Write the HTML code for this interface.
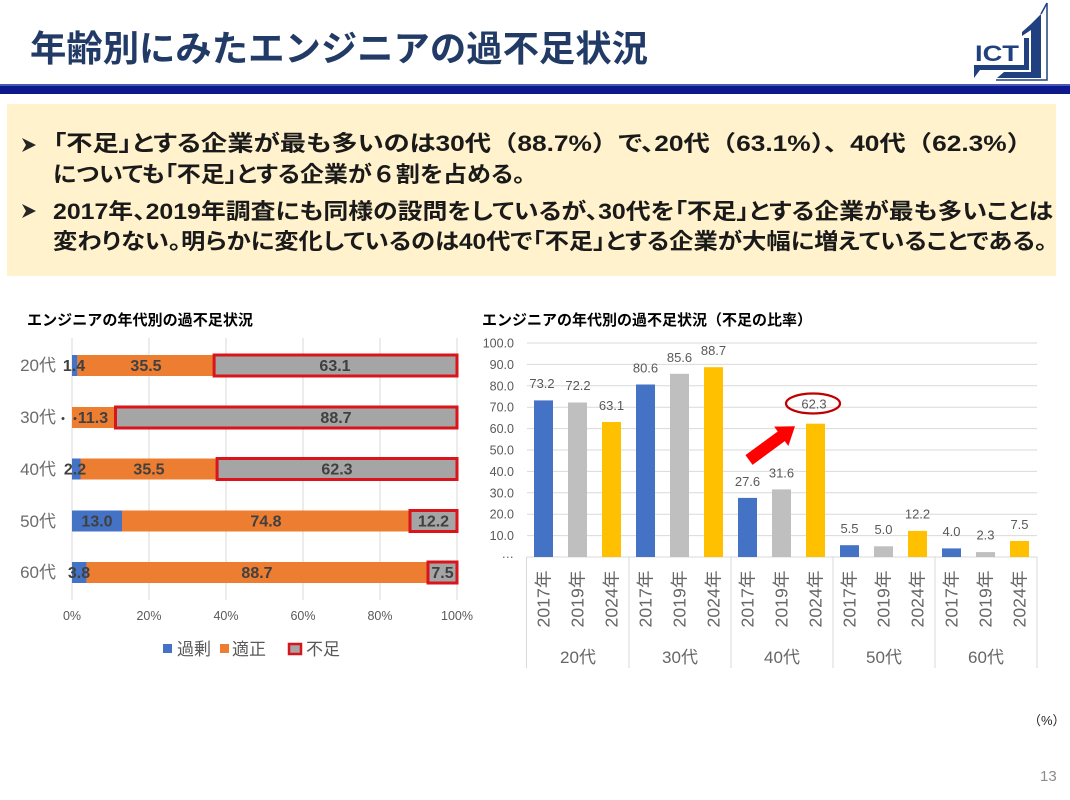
<!DOCTYPE html>
<html><head><meta charset="utf-8">
<style>
html,body{margin:0;padding:0;background:#fff;}
body{width:1070px;height:800px;overflow:hidden;}
svg{display:block;}
text{font-family:"Liberation Sans","Noto Sans CJK JP",sans-serif;}
.jp{font-feature-settings:"palt";}
.fw{font-feature-settings:normal;}
</style></head>
<body>
<svg width="1070" height="800" viewBox="0 0 1070 800" xmlns="http://www.w3.org/2000/svg">
<!-- Header -->
<text x="30" y="61" font-size="36" font-weight="bold" fill="#213a66" textLength="618" lengthAdjust="spacingAndGlyphs">年齢別にみたエンジニアの過不足状況</text>
<rect x="0" y="84" width="1070" height="2" fill="#4a58b8"/>
<rect x="0" y="86" width="1070" height="8" fill="#0d1a8c"/>
<!-- Logo -->
<g fill="#20407f" stroke="none">
  <text x="975" y="61" font-size="22" font-weight="bold" fill="#20407f" textLength="44" lengthAdjust="spacingAndGlyphs">ICT</text>
  <polygon points="1031,24 1041,14 1041,72 1031,72"/>
  <polygon points="1022,32 1031,24 1031,30 1022,36"/>
  <polygon points="974,65 1024,65 1024,38 1029,38 1029,70 980,70 974,78"/>
  <polygon points="997,78 1004,72 1041,72 1041,78"/>
</g>
<polyline points="1047,3 1047,80 996,80" fill="none" stroke="#20407f" stroke-width="1.5"/>
<line x1="1047" y1="3" x2="1041" y2="14" stroke="#20407f" stroke-width="1.5"/>

<!-- Yellow box -->
<rect x="7" y="104" width="1049" height="172" fill="#fff2cc"/>
<polygon points="22,138 36,145 22,152 26,145" fill="#262626"/>
<polygon points="22,204 36,211 22,218 26,211" fill="#262626"/>
<g font-size="22" font-weight="bold" fill="#1a1a1a" class="jp">
<text x="53" y="151" textLength="980" lengthAdjust="spacingAndGlyphs">「不足」とする企業が最も多いのは30代<tspan class="fw">（</tspan>88.7%<tspan class="fw">）</tspan>で、20代<tspan class="fw">（</tspan>63.1%<tspan class="fw">）、</tspan>40代<tspan class="fw">（</tspan>62.3%<tspan class="fw">）</tspan></text>
<text x="53" y="182" textLength="472" lengthAdjust="spacingAndGlyphs">についても「不足」とする企業が<tspan class="fw">６</tspan>割を占める。</text>
<text x="53" y="219" textLength="1000" lengthAdjust="spacingAndGlyphs">2017年、2019年調査にも同様の設問をしているが、30代を「不足」とする企業が最も多いことは</text>
<text x="53" y="249" textLength="994" lengthAdjust="spacingAndGlyphs">変わりない。明らかに変化しているのは40代で「不足」とする企業が大幅に増えていることである。</text>
</g>

<!-- Left chart -->
<text x="27" y="325" font-size="15" font-weight="bold" fill="#000" textLength="226" lengthAdjust="spacingAndGlyphs">エンジニアの年代別の過不足状況</text>
<g stroke="#d9d9d9" stroke-width="1">
  <line x1="72" y1="338" x2="72" y2="600"/>
  <line x1="149" y1="338" x2="149" y2="600"/>
  <line x1="226" y1="338" x2="226" y2="600"/>
  <line x1="303" y1="338" x2="303" y2="600"/>
  <line x1="380" y1="338" x2="380" y2="600"/>
  <line x1="457" y1="338" x2="457" y2="600"/>
</g>
<g>
  <rect x="72" y="355" width="5.4" height="21" fill="#4472c4"/>
  <rect x="77.4" y="355" width="136.7" height="21" fill="#ed7d31"/>
  <rect x="214.1" y="355" width="242.9" height="21" fill="#a5a5a5" stroke="#d9141b" stroke-width="3"/>
  <rect x="72" y="407" width="43.5" height="21" fill="#ed7d31"/>
  <rect x="115.5" y="407" width="341.5" height="21" fill="#a5a5a5" stroke="#d9141b" stroke-width="3"/>
  <rect x="72" y="458.5" width="8.5" height="21" fill="#4472c4"/>
  <rect x="80.5" y="458.5" width="136.6" height="21" fill="#ed7d31"/>
  <rect x="217.1" y="458.5" width="239.9" height="21" fill="#a5a5a5" stroke="#d9141b" stroke-width="3"/>
  <rect x="72" y="510.5" width="50" height="21" fill="#4472c4"/>
  <rect x="122" y="510.5" width="288" height="21" fill="#ed7d31"/>
  <rect x="410" y="510.5" width="47" height="21" fill="#a5a5a5" stroke="#d9141b" stroke-width="3"/>
  <rect x="72" y="562" width="14.6" height="21" fill="#4472c4"/>
  <rect x="86.6" y="562" width="341.4" height="21" fill="#ed7d31"/>
  <rect x="428" y="562" width="29" height="21" fill="#a5a5a5" stroke="#d9141b" stroke-width="3"/>
</g>
<g font-size="17" fill="#6b6b6b" text-anchor="end">
  <text x="56" y="371">20代</text>
  <text x="56" y="423">30代</text>
  <text x="56" y="475">40代</text>
  <text x="56" y="527">50代</text>
  <text x="56" y="578">60代</text>
</g>
<g font-size="16" font-weight="bold" fill="#404040" text-anchor="middle">
  <text x="74" y="371">1.4</text>
  <text x="146" y="371">35.5</text>
  <text x="335" y="371">63.1</text>
  <text x="69" y="423" font-size="12">・・</text>
  <text x="93" y="423">11.3</text>
  <text x="336" y="423">88.7</text>
  <text x="75" y="474.5">2.2</text>
  <text x="149" y="474.5">35.5</text>
  <text x="337" y="474.5">62.3</text>
  <text x="97" y="526.5">13.0</text>
  <text x="266" y="526.5">74.8</text>
  <text x="433.5" y="526.5">12.2</text>
  <text x="79" y="578">3.8</text>
  <text x="257" y="578">88.7</text>
  <text x="442.5" y="578">7.5</text>
</g>
<g font-size="12.5" fill="#595959" text-anchor="middle">
  <text x="72" y="620">0%</text>
  <text x="149" y="620">20%</text>
  <text x="226" y="620">40%</text>
  <text x="303" y="620">60%</text>
  <text x="380" y="620">80%</text>
  <text x="457" y="620">100%</text>
</g>
<rect x="163" y="644" width="9" height="9" fill="#4472c4"/>
<text x="177" y="655" font-size="17" fill="#595959">過剰</text>
<rect x="220" y="644" width="9" height="9" fill="#ed7d31"/>
<text x="232" y="655" font-size="17" fill="#595959">適正</text>
<rect x="289" y="644" width="12" height="10" fill="#a5a5a5" stroke="#d9141b" stroke-width="2.5"/>
<text x="306" y="655" font-size="17" fill="#595959">不足</text>

<!-- Right chart -->
<text x="482" y="325" font-size="15" font-weight="bold" fill="#000" textLength="330" lengthAdjust="spacingAndGlyphs">エンジニアの年代別の過不足状況（不足の比率）</text>
<g stroke="#d9d9d9" stroke-width="1">
  <line x1="527" y1="343" x2="1037" y2="343"/>
  <line x1="527" y1="364.4" x2="1037" y2="364.4"/>
  <line x1="527" y1="385.8" x2="1037" y2="385.8"/>
  <line x1="527" y1="407.2" x2="1037" y2="407.2"/>
  <line x1="527" y1="428.6" x2="1037" y2="428.6"/>
  <line x1="527" y1="450" x2="1037" y2="450"/>
  <line x1="527" y1="471.4" x2="1037" y2="471.4"/>
  <line x1="527" y1="492.8" x2="1037" y2="492.8"/>
  <line x1="527" y1="514.2" x2="1037" y2="514.2"/>
  <line x1="527" y1="535.6" x2="1037" y2="535.6"/>
  <line x1="526.5" y1="557" x2="1037" y2="557"/>
  <line x1="526.5" y1="557" x2="526.5" y2="668"/>
  <line x1="629" y1="557" x2="629" y2="668"/>
  <line x1="731" y1="557" x2="731" y2="668"/>
  <line x1="833" y1="557" x2="833" y2="668"/>
  <line x1="935" y1="557" x2="935" y2="668"/>
  <line x1="1037" y1="557" x2="1037" y2="668"/>
</g>
<g font-size="12.5" fill="#595959" text-anchor="end">
  <text x="514" y="347.5">100.0</text>
  <text x="514" y="368.9">90.0</text>
  <text x="514" y="390.3">80.0</text>
  <text x="514" y="411.7">70.0</text>
  <text x="514" y="433.1">60.0</text>
  <text x="514" y="454.5">50.0</text>
  <text x="514" y="475.9">40.0</text>
  <text x="514" y="497.3">30.0</text>
  <text x="514" y="518.7">20.0</text>
  <text x="514" y="540.1">10.0</text>
  <text x="514" y="558">…</text>
</g>
<g>
  <rect x="534" y="400.4" width="19" height="156.6" fill="#4472c4"/>
  <rect x="568" y="402.5" width="19" height="154.5" fill="#bfbfbf"/>
  <rect x="602" y="422" width="19" height="135" fill="#ffc000"/>
  <rect x="636" y="384.5" width="19" height="172.5" fill="#4472c4"/>
  <rect x="670" y="373.8" width="19" height="183.2" fill="#bfbfbf"/>
  <rect x="704" y="367.2" width="19" height="189.8" fill="#ffc000"/>
  <rect x="738" y="497.9" width="19" height="59.1" fill="#4472c4"/>
  <rect x="772" y="489.4" width="19" height="67.6" fill="#bfbfbf"/>
  <rect x="806" y="423.7" width="19" height="133.3" fill="#ffc000"/>
  <rect x="840" y="545.2" width="19" height="11.8" fill="#4472c4"/>
  <rect x="874" y="546.3" width="19" height="10.7" fill="#bfbfbf"/>
  <rect x="908" y="530.9" width="19" height="26.1" fill="#ffc000"/>
  <rect x="942" y="548.4" width="19" height="8.6" fill="#4472c4"/>
  <rect x="976" y="552.1" width="19" height="4.9" fill="#bfbfbf"/>
  <rect x="1010" y="541" width="19" height="16" fill="#ffc000"/>
</g>
<g font-size="13" fill="#595959" text-anchor="middle">
  <text x="542" y="388">73.2</text>
  <text x="578" y="390">72.2</text>
  <text x="611.5" y="410">63.1</text>
  <text x="645.5" y="372.5">80.6</text>
  <text x="679.5" y="362">85.6</text>
  <text x="713.5" y="355">88.7</text>
  <text x="747.5" y="486">27.6</text>
  <text x="781.5" y="477.5">31.6</text>
  <text x="814" y="408.5">62.3</text>
  <text x="849.5" y="533">5.5</text>
  <text x="883.5" y="534">5.0</text>
  <text x="917.5" y="518.5">12.2</text>
  <text x="951.5" y="536">4.0</text>
  <text x="985.5" y="539.5">2.3</text>
  <text x="1019.5" y="529">7.5</text>
</g>
<ellipse cx="813" cy="403.5" rx="27" ry="10" fill="none" stroke="#c00000" stroke-width="2.2"/>
<polygon points="0,-6 40,-6 40,-12 57,0 40,12 40,6 0,6" fill="#ff0000" transform="translate(749,460) rotate(-36.25)"/>
<g font-size="17.5" fill="#666" text-anchor="middle">
  <text transform="translate(549.5,599) rotate(-90)" textLength="57" lengthAdjust="spacingAndGlyphs">2017年</text>
  <text transform="translate(583.5,599) rotate(-90)" textLength="57" lengthAdjust="spacingAndGlyphs">2019年</text>
  <text transform="translate(617.5,599) rotate(-90)" textLength="57" lengthAdjust="spacingAndGlyphs">2024年</text>
  <text transform="translate(651.5,599) rotate(-90)" textLength="57" lengthAdjust="spacingAndGlyphs">2017年</text>
  <text transform="translate(685.5,599) rotate(-90)" textLength="57" lengthAdjust="spacingAndGlyphs">2019年</text>
  <text transform="translate(719.5,599) rotate(-90)" textLength="57" lengthAdjust="spacingAndGlyphs">2024年</text>
  <text transform="translate(753.5,599) rotate(-90)" textLength="57" lengthAdjust="spacingAndGlyphs">2017年</text>
  <text transform="translate(787.5,599) rotate(-90)" textLength="57" lengthAdjust="spacingAndGlyphs">2019年</text>
  <text transform="translate(821.5,599) rotate(-90)" textLength="57" lengthAdjust="spacingAndGlyphs">2024年</text>
  <text transform="translate(855.5,599) rotate(-90)" textLength="57" lengthAdjust="spacingAndGlyphs">2017年</text>
  <text transform="translate(889.5,599) rotate(-90)" textLength="57" lengthAdjust="spacingAndGlyphs">2019年</text>
  <text transform="translate(923.5,599) rotate(-90)" textLength="57" lengthAdjust="spacingAndGlyphs">2024年</text>
  <text transform="translate(957.5,599) rotate(-90)" textLength="57" lengthAdjust="spacingAndGlyphs">2017年</text>
  <text transform="translate(991.5,599) rotate(-90)" textLength="57" lengthAdjust="spacingAndGlyphs">2019年</text>
  <text transform="translate(1025.5,599) rotate(-90)" textLength="57" lengthAdjust="spacingAndGlyphs">2024年</text>
</g>
<g font-size="17" fill="#666" text-anchor="middle">
  <text x="578" y="663">20代</text>
  <text x="680" y="663">30代</text>
  <text x="782" y="663">40代</text>
  <text x="884" y="663">50代</text>
  <text x="986" y="663">60代</text>
</g>
<text x="1028" y="725" font-size="13" fill="#262626">（%）</text>
<text x="1040" y="781" font-size="15" fill="#8c8c8c">13</text>
</svg>
</body></html>
